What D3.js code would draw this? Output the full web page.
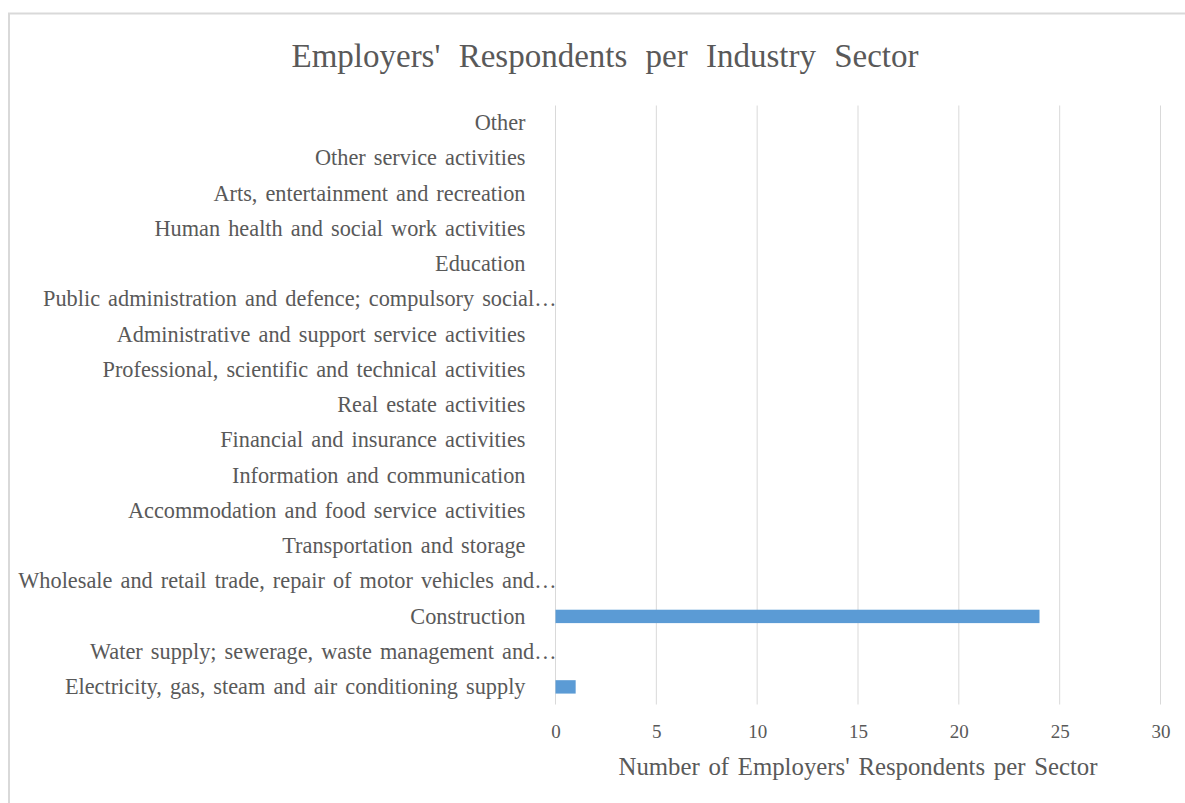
<!DOCTYPE html>
<html>
<head>
<meta charset="utf-8">
<script src="https://cdn.jsdelivr.net/npm/d3@7"></script>
<style>
  html, body { margin: 0; padding: 0; background: #ffffff; }
  svg { display: block; font-family: "Liberation Serif", "Times New Roman", serif; }
</style>
</head>
<body>
<svg id="chart" width="1185" height="803"></svg>
<script>
// Industry sectors, bottom to top as listed on the axis
const sectors = [
  "Electricity, gas, steam and air conditioning supply",
  "Water supply; sewerage, waste management and\u2026",
  "Construction",
  "Wholesale and retail trade, repair of motor vehicles and\u2026",
  "Transportation and storage",
  "Accommodation and food service activities",
  "Information and communication",
  "Financial and insurance activities",
  "Real estate activities",
  "Professional, scientific and technical activities",
  "Administrative and support service activities",
  "Public administration and defence; compulsory social\u2026",
  "Education",
  "Human health and social work activities",
  "Arts, entertainment and recreation",
  "Other service activities",
  "Other"
];
// Number of employer respondents in each sector
const respondents = [1, 0, 24, 0, 0, 0, 0, 0, 0, 0, 0, 0, 0, 0, 0, 0, 0];
const xTicks = [0, 5, 10, 15, 20, 25, 30];
const titleText = "Employers' Respondents per Industry Sector";
const xAxisTitle = "Number of Employers' Respondents per Sector";

const svg = d3.select("#chart");
const W = 1185, H = 803;
const margin = { top: 105.5, right: 25, bottom: 98.5, left: 555.5 };
const innerW = 1160.5 - margin.left;
const innerH = H - margin.top - margin.bottom;
const textColor = "#595959";

// Chart frame
svg.append("rect")
  .attr("x", 9).attr("y", 13.5)
  .attr("width", W + 20).attr("height", H + 20)
  .attr("fill", "#fff").attr("stroke", "#d9d9d9").attr("stroke-width", 2);

const x = d3.scaleLinear().domain([0, 30]).range([0, innerW]);
const y = d3.scaleBand()
  .domain(sectors.slice().reverse())
  .range([0, innerH])
  .paddingInner(0.62).paddingOuter(0.31);

const g = svg.append("g").attr("transform", `translate(${margin.left},${margin.top})`);

// Vertical gridlines
g.append("g")
  .selectAll("line")
  .data(xTicks)
  .join("line")
  .attr("x1", d => x(d)).attr("x2", d => x(d))
  .attr("y1", 0).attr("y2", innerH)
  .attr("stroke", "#d9d9d9").attr("stroke-width", 1);

// X tick labels
const xAxis = d3.axisBottom(x).tickValues(xTicks).tickSize(0).tickPadding(20);
const xg = g.append("g").attr("transform", `translate(0,${innerH})`).call(xAxis);
xg.select(".domain").remove();
xg.selectAll("text")
  .attr("fill", textColor)
  .style("font-size", "19px")
  .style("font-family", "'Liberation Serif', serif");

// Bars
g.append("g")
  .selectAll("rect")
  .data(sectors.map((s, i) => ({ s, v: respondents[i] })))
  .join("rect")
  .attr("x", x(0))
  .attr("y", d => y(d.s))
  .attr("width", d => x(d.v) - x(0))
  .attr("height", y.bandwidth())
  .attr("fill", "#5b9bd5");

// Category labels; shortened labels run right up to the axis line
const yAxis = d3.axisLeft(y).tickSize(0).tickPadding(30);
const yg = g.append("g").call(yAxis);
yg.select(".domain").remove();
yg.selectAll(".tick text")
  .attr("fill", textColor)
  .style("font-size", "22.3px")
  .style("word-spacing", "2.5px")
  .style("font-family", "'Liberation Serif', serif")
  .attr("x", d => d.endsWith("\u2026") ? 1 : -30);

// Title
svg.append("text")
  .attr("x", 605).attr("y", 67)
  .attr("text-anchor", "middle")
  .attr("fill", textColor)
  .style("font-size", "33px")
  .style("word-spacing", "10px")
  .text(titleText);

// X axis title
svg.append("text")
  .attr("x", 858).attr("y", 775)
  .attr("text-anchor", "middle")
  .attr("fill", textColor)
  .style("font-size", "24.8px")
  .style("word-spacing", "2.5px")
  .text(xAxisTitle);
</script>
</body>
</html>
